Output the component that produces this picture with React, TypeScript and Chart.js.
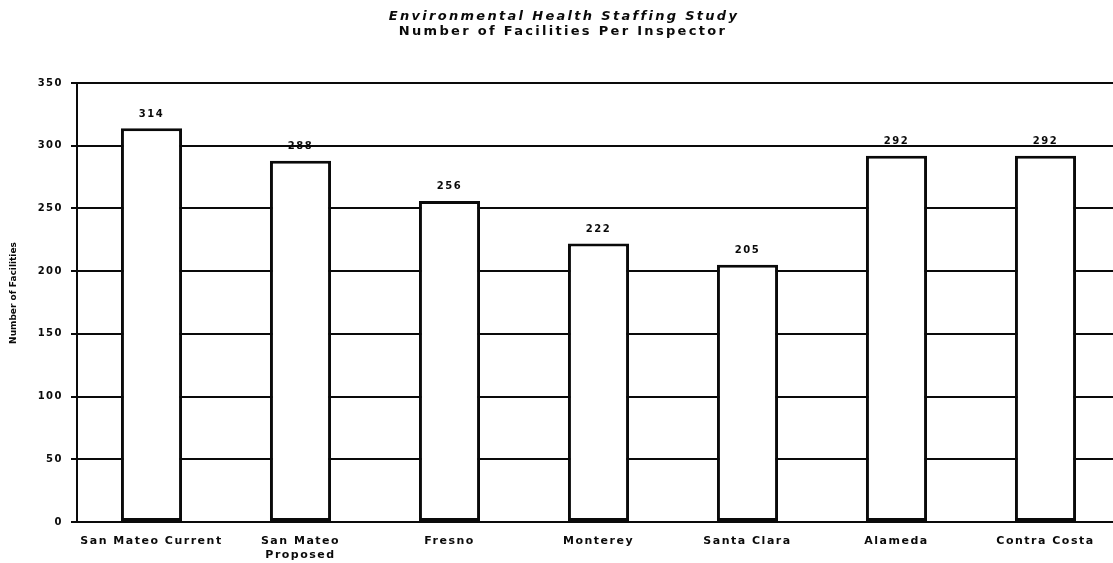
import React, { useEffect, useRef } from "react";
import { Chart, registerables } from "chart.js";

Chart.register(...registerables);

const titleLines = ["Environmental Health Staffing Study", "Number of Facilities Per Inspector"];
const yAxisTitle = "Number of Facilities";
const categories: (string | string[])[] = [
  "San Mateo Current",
  ["San Mateo", "Proposed"],
  "Fresno",
  "Monterey",
  "Santa Clara",
  "Alameda",
  "Contra Costa",
];
const facilitiesPerInspector = [314, 288, 256, 222, 205, 292, 292];
const yMin = 0;
const yMax = 350;
const yStep = 50;

const FONT = "'DejaVu Sans', 'Liberation Sans', Arial, sans-serif";
const INK = "#0a0a0a";

const spacingPlugin = {
  id: "spacing",
  beforeLayout(chart: any) {
    chart.ctx.letterSpacing = "1.5px";
  },
  beforeDraw(chart: any) {
    const ctx = chart.ctx;
    ctx.save();
    ctx.fillStyle = "#ffffff";
    ctx.fillRect(0, 0, chart.width, chart.height);
    ctx.restore();
    ctx.letterSpacing = "1.5px";
  },
};

const decorPlugin = {
  id: "decor",
  afterDraw(chart: any) {
    const ctx = chart.ctx;
    ctx.save();
    ctx.fillStyle = INK;
    ctx.textAlign = "center";
    ctx.textBaseline = "middle";
    // title
    ctx.letterSpacing = "2.3px";
    ctx.font = `italic bold 13px ${FONT}`;
    ctx.fillText(titleLines[0], 564, 17);
    ctx.font = `bold 13px ${FONT}`;
    ctx.fillText(titleLines[1], 563, 32);
    // y axis title
    ctx.letterSpacing = "0px";
    ctx.font = `bold 9px ${FONT}`;
    ctx.translate(14, 293);
    ctx.rotate(-Math.PI / 2);
    ctx.fillText(yAxisTitle, 0, 0);
    ctx.restore();
  },
  afterDatasetsDraw(chart: any) {
    const ctx = chart.ctx;
    const meta = chart.getDatasetMeta(0);
    const data = chart.data.datasets[0].data;
    ctx.save();
    ctx.fillStyle = INK;
    ctx.textAlign = "center";
    ctx.textBaseline = "middle";
    ctx.letterSpacing = "1.5px";
    ctx.font = `bold 10px ${FONT}`;
    meta.data.forEach((bar: any, i: number) => {
      ctx.fillText(String(data[i]), bar.x, bar.y - 14);
    });
    ctx.restore();
  },
};

export default function App() {
  const ref = useRef<HTMLCanvasElement | null>(null);

  useEffect(() => {
    if (!ref.current) return;
    const chart = new Chart(ref.current, {
      type: "bar",
      data: {
        labels: categories,
        datasets: [
          {
            data: facilitiesPerInspector,
            backgroundColor: "#ffffff",
            borderColor: INK,
            borderWidth: 3,
            borderSkipped: false,
            categoryPercentage: 1,
            barPercentage: 0.41,
          },
        ],
      },
      options: {
        responsive: false,
        animation: false,
        devicePixelRatio: 1,
        layout: { padding: { top: 83, left: 0, right: 2, bottom: 0 } },
        plugins: {
          legend: { display: false },
          title: { display: false },
          tooltip: { enabled: false },
        },
        scales: {
          x: {
            grid: { display: false },
            border: { display: true, color: INK, width: 2 },
            ticks: {
              color: INK,
              font: { family: FONT, size: 11, weight: "bold", lineHeight: 1.3 },
              padding: 4,
              maxRotation: 0,
              autoSkip: false,
            },
            afterFit(scale: any) {
              scale.height = 41;
            },
          },
          y: {
            min: yMin,
            max: yMax,
            grid: { color: INK, lineWidth: 2, tickLength: 6 },
            border: { display: true, color: INK, width: 2 },
            ticks: {
              stepSize: yStep,
              color: INK,
              font: { family: FONT, size: 10, weight: "bold" },
              padding: 8,
            },
            afterFit(scale: any) {
              scale.width = 77;
            },
          },
        },
      },
      plugins: [spacingPlugin, decorPlugin],
    });
    return () => chart.destroy();
  }, []);

  return (
    <div
      style={{
        position: "fixed",
        left: 0,
        top: 0,
        width: 1113,
        height: 563,
        overflow: "hidden",
        background: "#ffffff",
      }}
    >
      <canvas ref={ref} width={1122} height={563} style={{ width: 1122, height: 563 }} />
    </div>
  );
}
